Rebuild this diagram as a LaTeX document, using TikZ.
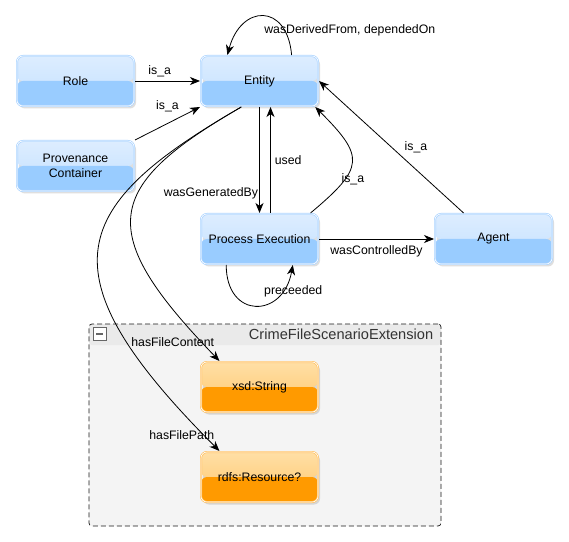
\documentclass[tikz,border=0pt]{standalone}
\usepackage{fontspec}
\setmainfont{Liberation Sans}
\usetikzlibrary{arrows.meta,positioning,calc,shadows}
\definecolor{clstop}{HTML}{DDEDFF}
\definecolor{clsmid}{HTML}{C2E0FF}
\definecolor{clslow}{HTML}{99CCFF}
\definecolor{clsline}{HTML}{A9D3FF}
\definecolor{littop}{HTML}{FFDFA6}
\definecolor{litmid}{HTML}{FFC76A}
\definecolor{litlow}{HTML}{FF9A00}
\definecolor{litline}{HTML}{FFC060}
\definecolor{grpfill}{HTML}{F4F4F4}
\definecolor{grphead}{HTML}{EAEAEA}

\begin{document}
\begin{tikzpicture}[x=1pt, y=1pt, font=\fontsize{12.3}{15}\selectfont, >={Stealth[length=10pt,width=8pt,inset=3pt]},
    boxbase/.style={line width=0.7pt, double=white, double distance=0.6pt, rounded corners=6pt, minimum width=117pt, minimum height=50pt, outer sep=1pt, align=center, drop shadow={shadow xshift=2pt, shadow yshift=-2.5pt, opacity=0.25}},
    classbox/.style={boxbase, draw=clsline, path picture={
        \shade[top color=clstop, bottom color=clsmid] (path picture bounding box.north west) rectangle (path picture bounding box.east);
        \fill[clslow] (path picture bounding box.west) rectangle (path picture bounding box.south east);}},
    literalbox/.style={boxbase, draw=litline, path picture={
        \shade[top color=littop, bottom color=litmid] (path picture bounding box.north west) rectangle (path picture bounding box.east);
        \fill[litlow] (path picture bounding box.west) rectangle (path picture bounding box.south east);}},
    grpbox/.style={draw=black!90, dash pattern=on 5pt off 3pt, line width=0.7pt, rounded corners=3pt, fill=grpfill, path picture={
        \fill[grphead] (path picture bounding box.north west) rectangle ([yshift=-21pt]path picture bounding box.north east);}},
    lbl/.style={inner sep=1pt},
    rel/.style={->, line width=0.8pt}]
    \path[use as bounding box, fill=white] (0,0) rectangle (569,541);

    \node[grpbox, minimum width=352pt, minimum height=202pt] (grp) at (265,116) {};
    \node[font=\fontsize{14.6}{16}\selectfont, text=black!80, anchor=east, inner sep=0pt] (grpname) at ([xshift=-8pt, yshift=-11pt]grp.north east) {CrimeFileScenarioExtension};
    \node[draw=black!60, fill=white, line width=0.6pt, minimum size=13pt, inner sep=0pt, path picture={
        \draw[line width=1.5pt] ([xshift=3pt]path picture bounding box.west) -- ([xshift=-3pt]path picture bounding box.east);}] (grpbtn) at ([xshift=11pt, yshift=-10.5pt]grp.north west) {};

    \node[classbox] (ent) at (259.5,460) {Entity};
    \node[classbox, left=65pt of ent] (role) {Role};
    \node[classbox, below=33pt of role] (prov) {Provenance\\Container};
    \node[classbox, below=106pt of ent] (proc) {Process Execution};
    \node[classbox, right=115pt of proc] (agent) {Agent};
    \node[literalbox, below=96pt of proc] (xsd) {xsd:String};
    \node[literalbox, below=38pt of xsd] (rdfs) {rdfs:Resource?};

    \draw[rel] (role) -- node[lbl, above=3pt, pos=0.38] {is\_a} (ent);
    \draw[rel] (prov.north east) -- node[lbl, above=10pt] {is\_a} (ent.south west);
    \draw[rel] (ent.39) to[out=95, in=75, looseness=2.1] node[lbl, pos=0.5, anchor=west, yshift=-14pt] {wasDerivedFrom, dependedOn} (ent.141);
    \draw[rel] (ent) -- node[lbl, left=0pt, pos=0.81] {wasGeneratedBy} (proc);
    \draw[rel] ([xshift=11pt]proc.north) -- node[lbl, right=3pt] {used} ([xshift=11pt]ent.south);
    \draw[rel] (proc.27) to[out=40, in=-45, looseness=1.7] node[lbl, pos=0.3, xshift=8pt] {is\_a} (ent.335);
    \draw[rel] (agent.139) -- node[lbl, right=12pt] {is\_a} (ent.east);
    \draw[rel] (proc) -- node[lbl, below=5pt] {wasControlledBy} (agent);
    \draw[rel] (proc.218) to[out=-90, in=-100, looseness=2.1] node[lbl, pos=0.8, xshift=11pt] {preceeded} (proc.322);
    \draw[rel] (ent.235) to[out=210, in=134, out distance=160pt, in distance=180pt] node[lbl, pos=0.95, xshift=-29pt] {hasFileContent} (xsd.147);
    \draw[rel] (ent.235) to[out=210, in=135, out distance=197pt, in distance=255pt] node[lbl, pos=0.97, xshift=-22pt] {hasFilePath} (rdfs.147);
\end{tikzpicture}
\end{document}
